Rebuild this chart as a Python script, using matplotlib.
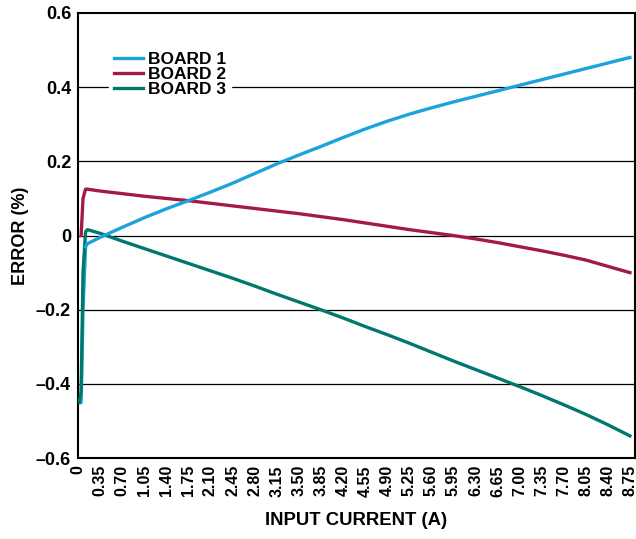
import matplotlib.pyplot as plt

plt.rcParams['font.family'] = ['Liberation Sans', 'DejaVu Sans']
plt.rcParams['font.weight'] = 'bold'

# input current (A)
current = [0.02, 0.05, 0.08, 0.12, 0.15, 0.35, 0.70, 1.05, 1.40, 1.75, 2.10, 2.45, 2.80,
           3.15, 3.50, 3.85, 4.20, 4.55, 4.90, 5.25, 5.60, 5.95, 6.30, 6.65,
           7.00, 7.35, 7.70, 8.05, 8.40, 8.75]

board1 = [-0.45, -0.45, -0.20, -0.03, -0.022, -0.005, 0.022, 0.048, 0.072, 0.094, 0.117,
          0.141, 0.167, 0.193, 0.217, 0.24, 0.264, 0.287, 0.308, 0.327, 0.344,
          0.36, 0.375, 0.39, 0.405, 0.42, 0.435, 0.45, 0.465, 0.48]
board2 = [None, 0.0, 0.10, 0.125, 0.125, 0.12, 0.113, 0.106, 0.1, 0.094, 0.087,
          0.08, 0.073, 0.066, 0.059, 0.051, 0.043, 0.034, 0.025, 0.016, 0.008,
          0.0, -0.009, -0.019, -0.03, -0.041, -0.053, -0.066, -0.083, -0.1]
board3 = [-0.45, -0.42, -0.1, 0.01, 0.016, 0.006, -0.015, -0.035, -0.055, -0.075,
          -0.095, -0.115, -0.136, -0.158, -0.179, -0.2, -0.222, -0.245, -0.267,
          -0.29, -0.314, -0.338, -0.361, -0.384, -0.407, -0.431, -0.456, -0.482,
          -0.51, -0.54]

xticks = [0, 0.35, 0.70, 1.05, 1.40, 1.75, 2.10, 2.45, 2.80, 3.15, 3.50, 3.85, 4.20,
          4.55, 4.90, 5.25, 5.60, 5.95, 6.30, 6.65, 7.00, 7.35, 7.70, 8.05, 8.40, 8.75]
xlabels = ['0'] + ['%.2f' % v for v in xticks[1:]]
yticks = [-0.6, -0.4, -0.2, 0, 0.2, 0.4, 0.6]
ylabels = ['–0.6', '–0.4', '–0.2', '0', '0.2', '0.4', '0.6']

fig = plt.figure(figsize=(6.36, 5.39), dpi=100)
ax = fig.add_axes([0.1226, 0.150, 0.8758, 0.826])

ax.plot(current[1:], board2[1:], color='#A31A48', lw=2.4, label='BOARD 2', zorder=3)
ax.plot(current, board3, color='#00786E', lw=2.4, label='BOARD 3', zorder=3)
ax.plot(current[3:], board1[3:], color='#1BA3DB', lw=2.4, zorder=4)
ax.plot(current[:4], board1[:4], color='#1BA3DB', lw=2.4, label='BOARD 1', zorder=2)

for y in [-0.4, -0.2, 0, 0.2, 0.4]:
    ax.axhline(y, color='black', lw=0.9, zorder=1)

ax.set_xlim(0, 8.83)
ax.set_ylim(-0.6, 0.6)
ax.set_xticks(xticks)
ax.set_xticklabels(xlabels, rotation=90, fontsize=11.5, fontweight='bold')
ax.set_yticks(yticks)
ax.set_yticklabels(ylabels, fontsize=13, fontweight='bold')
ax.tick_params(length=0, pad=5)
for s in ax.spines.values():
    s.set_linewidth(1.5)

ax.set_xlabel('INPUT CURRENT (A)', fontsize=13.3, fontweight='bold', labelpad=11)
ax.set_ylabel('ERROR (%)', fontsize=13, fontweight='bold', labelpad=5)

h, l = ax.get_legend_handles_labels()
order = [l.index('BOARD 1'), l.index('BOARD 2'), l.index('BOARD 3')]
leg = ax.legend([h[i] for i in order], [l[i] for i in order], loc='upper left',
                bbox_to_anchor=(0.04, 0.944), frameon=True, fancybox=False,
                edgecolor='white', framealpha=1, fontsize=12.5, handlelength=1.65,
                handletextpad=0.3, labelspacing=0.0, borderpad=0.3)
leg.set_zorder(5)
for t in leg.get_texts():
    t.set_fontweight('bold')

fig.savefig('out.png', dpi=100)
